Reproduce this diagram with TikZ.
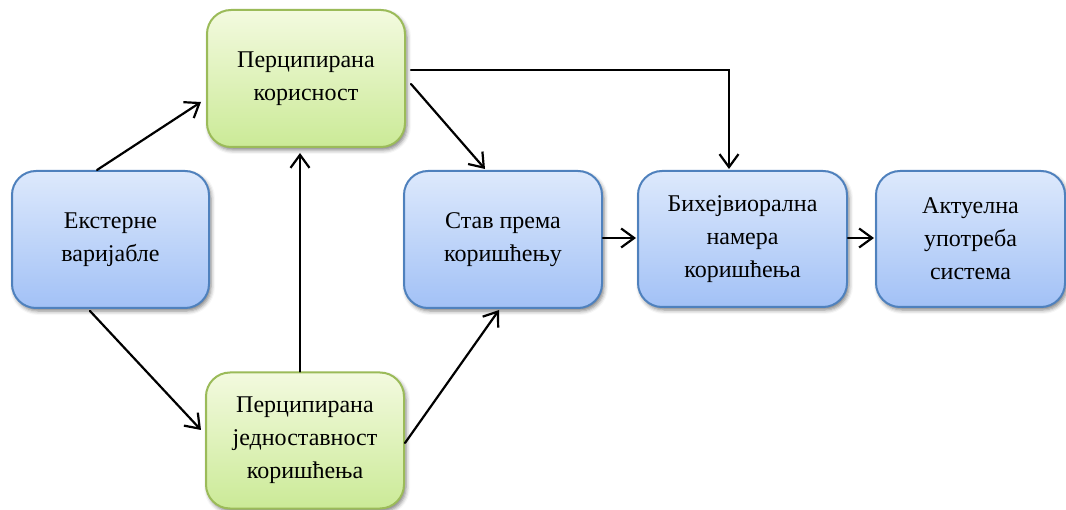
\documentclass[tikz,border=0pt]{standalone}
\usepackage{fontspec}
\setmainfont{Liberation Serif}
\usetikzlibrary{arrows.meta,shadows.blur,calc}

\definecolor{blueTop}{HTML}{DDE9FC}
\definecolor{blueBot}{HTML}{A2C1F6}
\definecolor{blueEdge}{HTML}{4F81BD}
\definecolor{greenTop}{HTML}{F3FADF}
\definecolor{greenBot}{HTML}{CBEA97}
\definecolor{greenEdge}{HTML}{9BBB59}

\tikzset{
  box/.style={rectangle, rounded corners=24pt, line width=2pt,
    minimum height=137pt, inner sep=2pt, align=center,
    font=\fontsize{24}{33}\selectfont,
    blur shadow={shadow xshift=2pt, shadow yshift=-3pt,
      shadow blur radius=4pt, shadow opacity=50}},
  bluebox/.style={box, draw=blueEdge, top color=blueTop, bottom color=blueBot},
  greenbox/.style={box, draw=greenEdge, top color=greenTop, bottom color=greenBot},
  link/.style={line width=2.2pt, line cap=round,
    -{Straight Barb[length=13pt, width=19pt, line width=2.2pt]}}
}

\begin{document}
\begin{tikzpicture}[x=1pt, y=-1pt]
  \useasboundingbox (0,0) rectangle (1066,510);

  % blocks of the model
  \node[bluebox, minimum width=197pt]  (ext)  at (110.5,239.5) {Екстерне\\варијабле};
  \node[greenbox, minimum width=198pt] (use)  at (306,78.5)    {Перципирана\\корисност};
  \node[bluebox, minimum width=198pt]  (att)  at (503,239.5)   {Став према\\коришћењу};
  \node[greenbox, minimum width=198pt, minimum height=136pt]
                                       (ease) at (305,440.5)   {Перципирана\\једноставност\\коришћења};
  \node[bluebox, minimum width=209pt, minimum height=136pt]
                                       (int)  at (742.5,239)   {Бихејвиорална\\намера\\коришћења};
  \node[bluebox, minimum width=189pt, minimum height=136pt]
                                       (act)  at (970.5,239)   {Актуелна\\употреба\\система};

  % connectors
  \draw[link] ([xshift=-13.5pt]ext.north) -- ([xshift=-5pt, yshift=-23.5pt]use.west);
  \draw[link] ([xshift=-20.5pt, yshift=-2pt]ext.south) -- ([xshift=-4pt, yshift=10.5pt]ease.west);
  \draw[link] ([xshift=-5pt]ease.north) -- ([xshift=-6pt, yshift=-5pt]use.south);
  \draw[link] ([xshift=5pt, yshift=-5.5pt]use.east) -- ([xshift=-18pt, yshift=1pt]att.north);
  \draw[link] ([xshift=5pt, yshift=8.5pt]use.east) -| ([xshift=-13.5pt, yshift=1pt]int.north);
  \draw[link] ([yshift=-2.5pt]ease.east) -- ([xshift=-4pt, yshift=-1pt]att.south);
  \draw[link] ([yshift=1.5pt]att.east) -- ([xshift=-1pt, yshift=1pt]int.west);
  \draw[link] ([yshift=1pt]int.east) -- ([xshift=-1pt, yshift=1pt]act.west);
\end{tikzpicture}
\end{document}
